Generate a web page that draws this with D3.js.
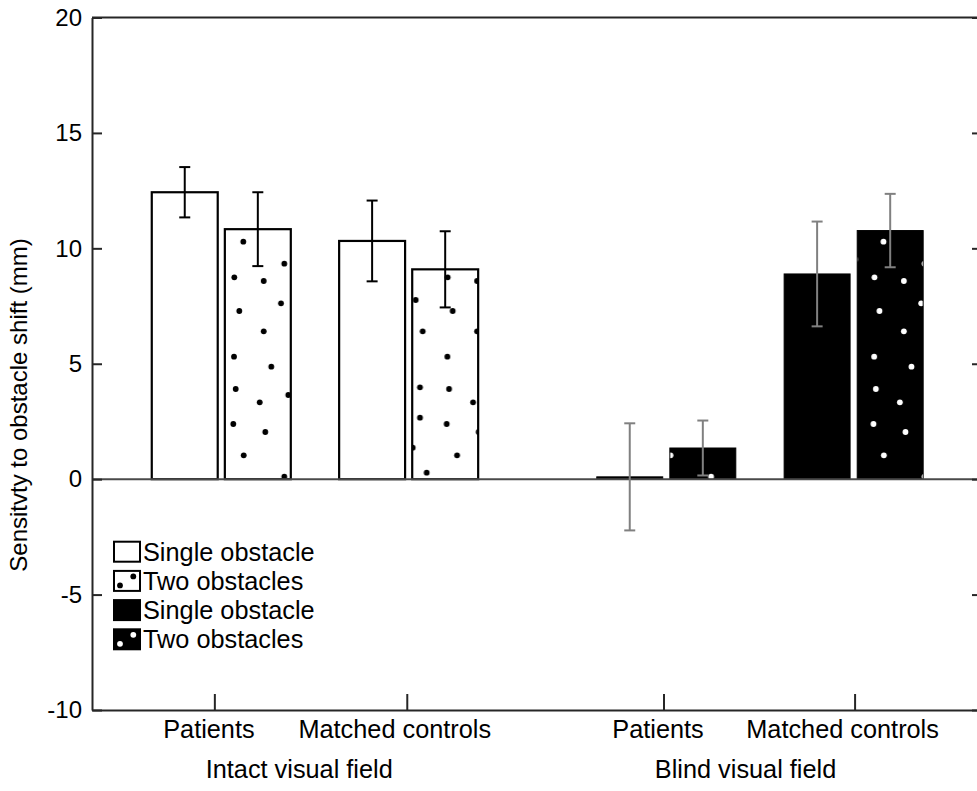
<!DOCTYPE html>
<html>
<head>
<meta charset="utf-8">
<script src="https://cdn.jsdelivr.net/npm/d3@7"></script>
<style>
	body { margin: 0; background: #fff; }
	svg { display: block; font-family: "Liberation Sans", Arial, sans-serif; }
</style>
</head>
<body>
<div id="chart"></div>
<script>
//Data
var categories = ["Patients", "Matched controls", "Patients", "Matched controls"];
var groupPos = [1, 2, 3.375, 4.375];
var tickPos = [0.963, 1.99, 3.36, 4.38];
var fields = ["Intact visual field", "Blind visual field"];
var fieldPos = [1.416, 3.798];
var singleMean = [12.43, 10.32, 0.1, 8.89];
var singleErr = [1.09, 1.75, 2.32, 2.27];
var twoMean = [10.83, 9.09, 1.35, 10.77];
var twoErr = [1.6, 1.65, 1.19, 1.59];
var legendLabels = ["Single obstacle", "Two obstacles", "Single obstacle", "Two obstacles"];
var yTicks = [-10, -5, 0, 5, 10, 15, 20];

(function () {
	'use strict';
	var W = 977, H = 791;
	var axisColor = "#262626";
	var svg = d3.select("#chart").append("svg")
		.attr("width", W)
		.attr("height", H);

	//Escalas
	var x = d3.scaleLinear().domain([0.31, 5.06]).range([92, 982]);
	var y = d3.scaleLinear().domain([-10, 20]).range([710, 17.5]);
	var unit = x(1) - x(0);
	var barW = 0.352 * unit;
	var off = 0.195 * unit;

	//Texture of dots (pixel positions inside the tile)
	var dots = [[23.3,241.7],[64.3,263.7],[14.3,277.3],[43.7,281],[61,303.3],[19.3,311],
		[43.7,331.3],[14,356.7],[51.3,366.7],[15.7,389],[39.7,402.3],[68.3,395],[13.3,424],
		[45.3,432],[23.7,455.3],[64.3,476.7],[195.7,300],[202.7,331.3],[200,387.3],
		[200,417.7],[192.7,447.7],[206.7,472.7],[208.4,259.3]];
	var defs = svg.append("defs");
	function makePattern(id, bg, fg) {
		var p = defs.append("pattern")
			.attr("id", id)
			.attr("patternUnits", "userSpaceOnUse")
			.attr("x", 220).attr("y", 0)
			.attr("width", 213.4).attr("height", H);
		p.append("rect").attr("width", 213.4).attr("height", H).attr("fill", bg);
		p.selectAll("circle").data(dots).enter().append("circle")
			.attr("cx", function(d) { return d[0]; })
			.attr("cy", function(d) { return d[1]; })
			.attr("r", 2.9)
			.attr("fill", fg);
	}
	makePattern("dotsBlack", "#fff", "#000");
	makePattern("dotsWhite", "#000", "#fff");

	//Barras
	var bars = [];
	groupPos.forEach(function(g, i) {
		var blind = i >= 2;
		bars.push({ pos: g, dx: -off, v: singleMean[i], e: singleErr[i], blind: blind, two: false });
		bars.push({ pos: g, dx: off, v: twoMean[i], e: twoErr[i], blind: blind, two: true });
	});
	svg.selectAll(".bar")
		.data(bars)
		.enter()
		.append("rect")
		.attr("class", "bar")
		.attr("x", function(d) { return x(d.pos) + d.dx - barW / 2; })
		.attr("width", barW)
		.attr("y", function(d) { return y(Math.max(d.v, 0)); })
		.attr("height", function(d) { return Math.abs(y(d.v) - y(0)); })
		.attr("fill", function(d) {
			if (d.two) { return d.blind ? "url(#dotsWhite)" : "url(#dotsBlack)"; }
			return d.blind ? "#000" : "#fff";
		})
		.attr("stroke", "#000")
		.attr("stroke-width", function(d) { return d.blind ? 1 : 2.2; });

	//Linha do zero
	svg.append("line")
		.attr("x1", x.range()[0]).attr("x2", x.range()[1])
		.attr("y1", y(0)).attr("y2", y(0))
		.attr("stroke", "#4a4a4a")
		.attr("stroke-width", 2);

	//Barras de erro
	var err = svg.selectAll(".err")
		.data(bars)
		.enter()
		.append("g")
		.attr("class", "err")
		.attr("stroke", function(d) { return d.blind ? "#808080" : "#000"; })
		.attr("stroke-width", 2)
		.attr("transform", function(d) { return "translate(" + (x(d.pos) + d.dx) + ",0)"; });
	err.append("line")
		.attr("y1", function(d) { return y(d.v + d.e); })
		.attr("y2", function(d) { return y(d.v - d.e); });
	[1, -1].forEach(function(s) {
		err.append("line")
			.attr("x1", -5.5).attr("x2", 5.5)
			.attr("y1", function(d) { return y(d.v + s * d.e); })
			.attr("y2", function(d) { return y(d.v + s * d.e); });
	});

	//Eixos
	function styleAxis(size) {
		return function(g) {
			g.select(".domain").attr("stroke", axisColor).attr("stroke-width", 2);
			g.selectAll(".tick line").attr("stroke", axisColor).attr("stroke-width", 2);
			g.selectAll(".tick text").attr("fill", "#000").style("font-size", size + "px");
		};
	}
	svg.append("g")
		.attr("transform", "translate(" + x.range()[0] + ",0)")
		.call(d3.axisLeft(y).tickValues(yTicks).tickSizeInner(-10).tickSizeOuter(0).tickPadding(10)
			.tickFormat(function(d) { return String(d); }))
		.call(styleAxis(24));
	svg.append("g")
		.attr("transform", "translate(" + x.range()[1] + ",0)")
		.call(d3.axisRight(y).tickValues(yTicks).tickSizeInner(-10).tickSizeOuter(0).tickFormat(""))
		.call(styleAxis(24));
	var xAxis = svg.append("g")
		.attr("transform", "translate(0," + y.range()[0] + ")")
		.call(d3.axisBottom(x).tickValues(tickPos).tickSizeInner(-16).tickSizeOuter(0).tickPadding(10)
			.tickFormat(function(d, i) { return categories[i]; }))
		.call(styleAxis(25.3));
	//labels sit a little left of their ticks in the original
	xAxis.selectAll(".tick text")
		.attr("dx", function() { return -0.065 * this.getComputedTextLength(); });
	svg.append("line")
		.attr("x1", x.range()[0]).attr("x2", x.range()[1])
		.attr("y1", y.range()[1]).attr("y2", y.range()[1])
		.attr("stroke", axisColor)
		.attr("stroke-width", 2);

	//Rótulos
	svg.selectAll(".field")
		.data(fields)
		.enter()
		.append("text")
		.attr("class", "field")
		.attr("x", function(d, i) { return x(fieldPos[i]); })
		.attr("y", 778)
		.attr("text-anchor", "middle")
		.style("font-size", "25.3px")
		.text(function(d) { return d; });
	svg.append("text")
		.attr("transform", "translate(27,405) rotate(-90)")
		.attr("text-anchor", "middle")
		.style("font-size", "24px")
		.text("Sensitvty to obstacle shift (mm)");

	//Legenda
	var leg = svg.selectAll(".leg")
		.data(legendLabels)
		.enter()
		.append("g")
		.attr("class", "leg")
		.attr("transform", function(d, i) { return "translate(114," + (541.7 + i * 29.2) + ")"; });
	leg.append("rect")
		.attr("width", 26).attr("height", 20)
		.attr("fill", function(d, i) { return i >= 2 ? "#000" : "#fff"; })
		.attr("stroke", "#000")
		.attr("stroke-width", 2);
	leg.each(function(d, i) {
		if (i % 2 === 0) { return; }
		d3.select(this).selectAll("circle")
			.data([[6, 14.5], [19.3, 5.5]])
			.enter()
			.append("circle")
			.attr("cx", function(p) { return p[0]; })
			.attr("cy", function(p) { return p[1]; })
			.attr("r", 2.9)
			.attr("fill", i >= 2 ? "#fff" : "#000");
	});
	leg.append("text")
		.attr("x", 29)
		.attr("y", 10)
		.attr("dy", "0.35em")
		.style("font-size", "25.3px")
		.text(function(d) { return d; });
}());
</script>
</body>
</html>
